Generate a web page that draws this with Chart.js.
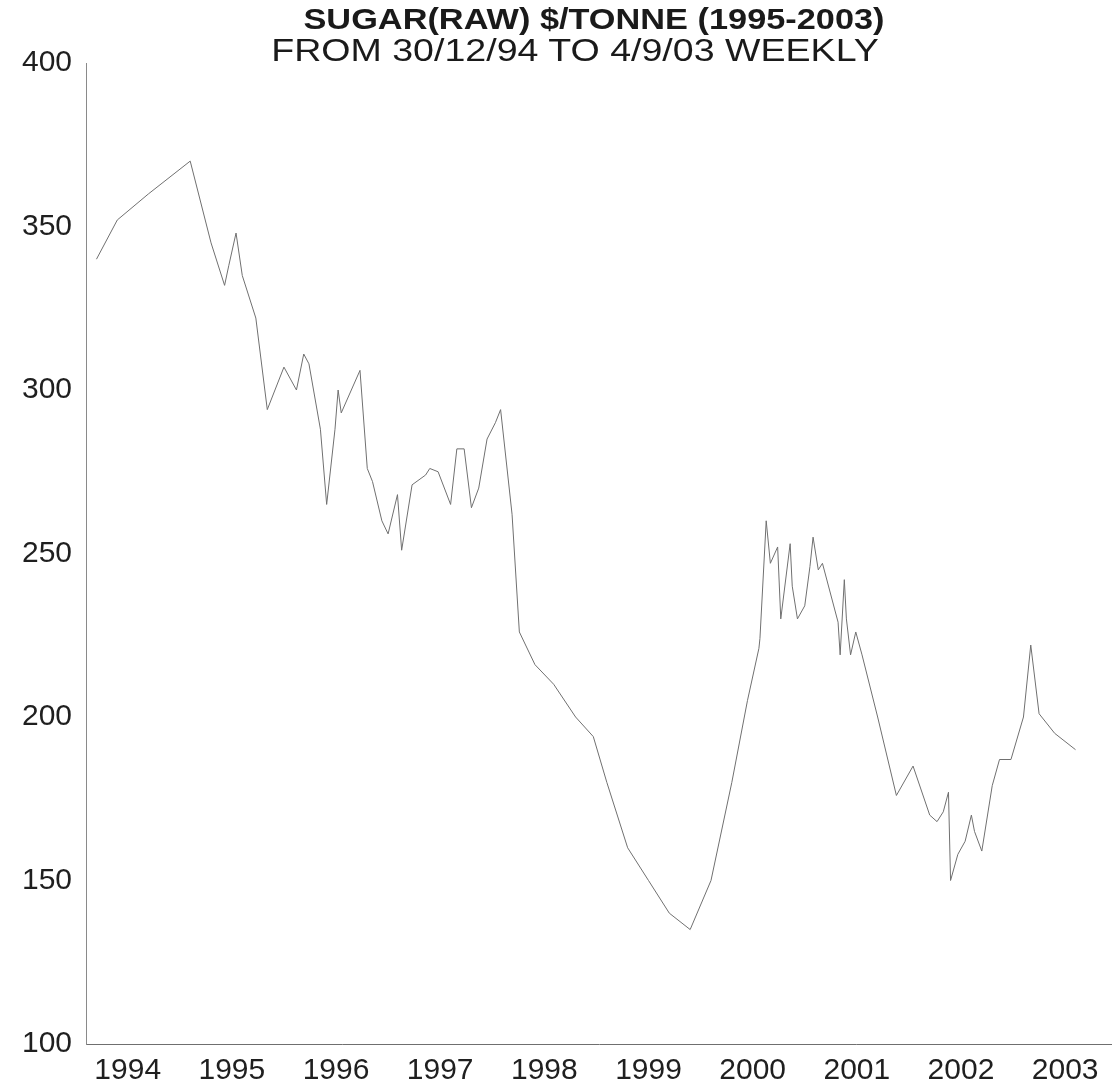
<!DOCTYPE html>
<html lang="en">
<head>
  <meta charset="UTF-8" />
  <title>Sugar (raw) $/tonne 1995-2003</title>
  <script src="https://cdn.jsdelivr.net/npm/chart.js"></script>
  <style>
    html, body {
      margin: 0;
      padding: 0;
      background: #ffffff;
      overflow: hidden;
    }

    .wrap {
      position: relative;
      width: 1112px;
      height: 1091px;
      overflow: hidden;
    }

    .title, .subtitle {
      position: absolute;
      font-family: "Liberation Sans", Arial, sans-serif;
      color: #1a1a1a;
      white-space: nowrap;
      line-height: 1;
    }

    .title {
      top: 4px;
      left: 594px;
      font-size: 30px;
      font-weight: bold;
      transform: translateX(-50%) scaleX(1.144);
    }

    .subtitle {
      top: 34px;
      left: 575px;
      font-size: 32px;
      transform: translateX(-50%) scaleX(1.174);
    }
  </style>
</head>
<body>
  <div class="wrap">
    <canvas id="sugarChart" width="1112" height="1102"></canvas>
    <div class="title">SUGAR(RAW) $/TONNE (1995-2003)</div>
    <div class="subtitle">FROM 30/12/94 TO 4/9/03 WEEKLY</div>
  </div>

  <script>
    // year labels on the x axis
    const yearLabels = ['1994', '1995', '1996', '1997', '1998', '1999', '2000', '2001', '2002', '2003'];
    const yTicks = [100, 150, 200, 250, 300, 350, 400];

    // positions along the year axis (label units) and price in $/tonne
    const weekPos = [
      1993.70, 1993.90, 1994.20, 1994.60, 1994.80, 1994.93, 1994.97, 1995.04, 1995.10, 1995.23,
      1995.34, 1995.50, 1995.62, 1995.69, 1995.74, 1995.85, 1995.91, 1995.99, 1996.02, 1996.05,
      1996.23, 1996.30, 1996.35, 1996.44, 1996.50, 1996.59, 1996.63, 1996.73, 1996.86, 1996.90,
      1996.98, 1997.10, 1997.16, 1997.23, 1997.30, 1997.37, 1997.45, 1997.53, 1997.58, 1997.69,
      1997.76, 1997.91, 1998.09, 1998.30, 1998.47, 1998.60, 1998.80, 1999.00, 1999.20, 1999.40,
      1999.60, 1999.80, 1999.95, 2000.06, 2000.07, 2000.13, 2000.17, 2000.24, 2000.27, 2000.36,
      2000.38, 2000.43, 2000.50, 2000.55, 2000.58, 2000.63, 2000.67, 2000.82, 2000.84, 2000.88,
      2000.90, 2000.94, 2000.99, 2001.05, 2001.20, 2001.38, 2001.54, 2001.70, 2001.77, 2001.83,
      2001.88, 2001.90, 2001.97, 2002.04, 2002.10, 2002.13, 2002.20, 2002.30, 2002.37, 2002.48,
      2002.60, 2002.67, 2002.75, 2002.90, 2003.10
    ];
    const price = [
      340, 352, 360, 370, 345, 332, 338, 348, 335, 322,
      294, 307, 300, 311, 308, 288, 265, 288, 300, 293,
      306, 276, 272, 260, 256, 268, 251, 271, 274, 276,
      275, 265, 282, 282, 264, 270, 285, 290, 294, 262,
      226, 216, 210, 200, 194, 180, 160, 150, 140, 135,
      150, 180, 205, 221, 224, 260, 247, 252, 230, 253,
      240, 230, 234, 246, 255, 245, 247, 229, 219, 242,
      230, 219, 226, 219, 200, 176, 185, 170, 168, 171,
      177, 150, 158, 162, 170, 165, 159, 179, 187, 187,
      200, 222, 201, 195, 190
    ];

    const points = weekPos.map((x, i) => ({ x: x, y: price[i] }));

    const labelFont = { family: '"Liberation Sans", Arial, sans-serif', size: 30 };

    new Chart(document.getElementById('sugarChart'), {
      type: 'line',
      data: {
        datasets: [{
          label: 'Sugar (raw) $/tonne',
          data: points,
          borderColor: '#707070',
          borderWidth: 1,
          pointRadius: 0,
          tension: 0,
          fill: false
        }]
      },
      options: {
        responsive: false,
        animation: false,
        layout: {
          padding: { top: 63, right: 0, bottom: 4, left: 8 }
        },
        plugins: {
          legend: { display: false },
          tooltip: { enabled: false }
        },
        scales: {
          x: {
            type: 'linear',
            min: 1993.6,
            max: 2003.45,
            afterBuildTicks: (axis) => {
              axis.ticks = yearLabels.map(l => ({ value: Number(l) }));
            },
            ticks: {
              color: '#1f1f1f',
              font: labelFont,
              padding: 9,
              maxRotation: 0,
              autoSkip: false,
              callback: (v) => String(v)
            },
            grid: { display: false, drawTicks: false },
            border: { display: true, color: '#6f6f6f', width: 1 }
          },
          y: {
            min: 100,
            max: 400,
            afterBuildTicks: (axis) => {
              axis.ticks = yTicks.map(v => ({ value: v }));
            },
            ticks: {
              color: '#1f1f1f',
              font: labelFont,
              padding: 14
            },
            grid: { display: false, drawTicks: false },
            border: { display: true, color: '#8a8a8a', width: 1 }
          }
        }
      }
    });
  </script>
</body>
</html>
